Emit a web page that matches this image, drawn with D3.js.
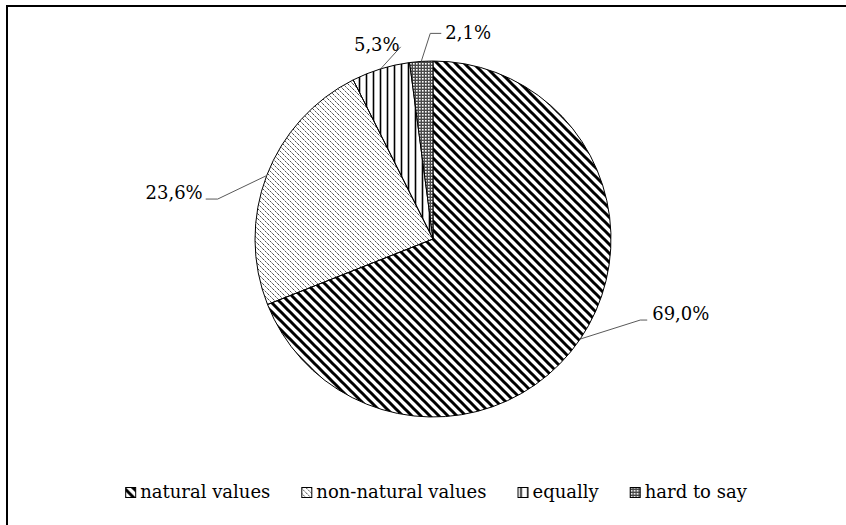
<!DOCTYPE html>
<html>
<head>
<meta charset="utf-8">
<script src="https://cdn.jsdelivr.net/npm/d3@7"></script>
<style>
  body { margin: 0; background: #fff; }
  text { font-family: "DejaVu Serif", serif; font-size: 18px; fill: #000; }
</style>
</head>
<body>
<div id="plot"></div>
<script>
// answers, in the order the slices run clockwise from 12 o'clock
const categories = ["natural values", "non-natural values", "equally", "hard to say"];
const shares = [69.0, 23.6, 5.3, 2.1];
const shareLabels = ["69,0%", "23,6%", "5,3%", "2,1%"];
const patternIds = ["pNatural", "pNonNatural", "pEqually", "pHard"];

const width = 846, height = 525;
const cx = 433, cy = 239, radius = 178;

const svg = d3.select("#plot").append("svg")
  .attr("width", width)
  .attr("height", height);

// Fill patterns (Excel style hatches)
const defs = svg.append("defs");
const pat = (id, size) => defs.append("pattern")
  .attr("id", id)
  .attr("patternUnits", "userSpaceOnUse")
  .attr("width", size).attr("height", size);

pat("pNatural", 9).append("path")
  .attr("d", "M0,0 L9,9 M-4.5,4.5 L4.5,13.5 M4.5,-4.5 L13.5,4.5")
  .attr("stroke", "#000").attr("stroke-width", 3);

pat("pNonNatural", 5).append("path")
  .attr("d", "M0,0 L5,5 M-2.5,2.5 L2.5,7.5 M2.5,-2.5 L7.5,2.5")
  .attr("stroke", "#444").attr("stroke-width", 1)
  .attr("stroke-dasharray", "2,1");

pat("pEqually", 7).append("path")
  .attr("d", "M3.5,0 L3.5,7")
  .attr("stroke", "#000").attr("stroke-width", 1.6);

const hard = pat("pHard", 3);
hard.append("rect").attr("width", 3).attr("height", 3).attr("fill", "#4a4a4a");
hard.append("rect").attr("x", 1).attr("y", 1).attr("width", 1.6).attr("height", 1.6).attr("fill", "#fff");

// Frame
svg.append("rect")
  .attr("x", 7).attr("y", 6)
  .attr("width", 900).attr("height", 600)
  .attr("fill", "none")
  .attr("stroke", "#000")
  .attr("stroke-width", 2);

// Pie
const pie = d3.pie().sort(null).value(d => d);
const arcs = pie(shares);
const arc = d3.arc().innerRadius(0).outerRadius(radius);
const edge = d3.arc().innerRadius(radius).outerRadius(radius);

const plot = svg.append("g").attr("transform", `translate(${cx},${cy})`);

plot.selectAll("path.slice")
  .data(arcs)
  .join("path")
    .attr("class", "slice")
    .attr("d", arc)
    .attr("fill", (d, i) => `url(#${patternIds[i]})`)
    .attr("stroke", "#000")
    .attr("stroke-width", 1);

// Label placement relative to the slice's edge point
const labelLayout = [
  { elbow: [60, -19], end: [67, -19], text: [72, -26], anchor: "start" },
  { elbow: [-49, 23.5], end: [-61, 23.5], text: [-64, 16.5], anchor: "end" },
  { elbow: [20, -22], end: [20, -22], text: [19, -24], anchor: "end" },
  { elbow: [9, -28], end: [20, -28], text: [24, -29], anchor: "start" }
];

arcs.forEach((d, i) => {
  const [px, py] = edge.centroid(d);
  const L = labelLayout[i];
  plot.append("path")
    .attr("d", d3.line()([[px, py], [px + L.elbow[0], py + L.elbow[1]], [px + L.end[0], py + L.end[1]]]))
    .attr("fill", "none")
    .attr("stroke", "#595959")
    .attr("stroke-width", 1);
  plot.append("text")
    .attr("x", px + L.text[0])
    .attr("y", py + L.text[1])
    .attr("dominant-baseline", "central")
    .attr("text-anchor", L.anchor)
    .text(shareLabels[i]);
});

// Legend, centred under the pie
const legend = svg.append("g");
let lx = 0;
categories.forEach((c, i) => {
  const item = legend.append("g").attr("transform", `translate(${lx},0)`);
  item.append("rect")
    .attr("x", 0.5).attr("y", -10.5)
    .attr("width", 10).attr("height", 10)
    .attr("fill", `url(#${patternIds[i]})`)
    .attr("stroke", "#000")
    .attr("stroke-width", 1);
  const t = item.append("text")
    .attr("x", 15)
    .attr("y", 0)
    .text(c);
  lx += 15 + t.node().getComputedTextLength() + (i < categories.length - 1 ? 31 : 0);
});
legend.attr("transform", `translate(${436 - lx / 2},498)`);
</script>
</body>
</html>
